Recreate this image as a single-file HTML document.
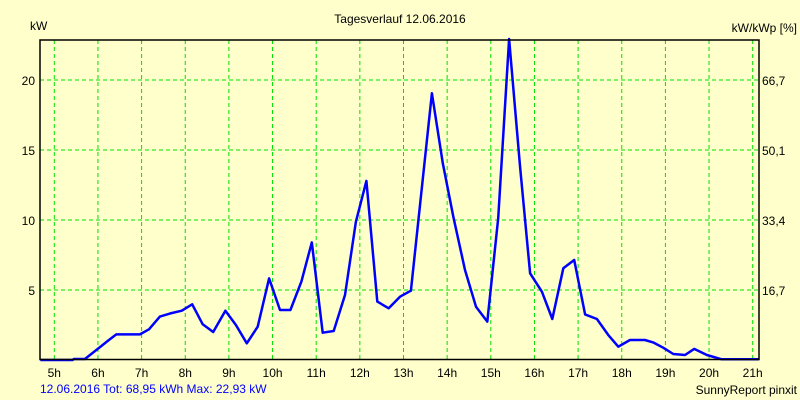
<!DOCTYPE html>
<html><head><meta charset="utf-8"><style>
html,body{margin:0;padding:0;background:#FFFFCC;}
svg{display:block;font-family:"Liberation Sans",Arial,sans-serif;font-size:12px;}
</style></head><body>
<svg id="chart" width="800" height="400" viewBox="0 0 800 400" xmlns="http://www.w3.org/2000/svg">
<rect x="0" y="0" width="800" height="400" fill="#FFFFCC"/>
<text x="400" y="23" text-anchor="middle" fill="#000">Tagesverlauf 12.06.2016</text>
<text x="30" y="30" fill="#000">kW</text>
<text x="797" y="32" text-anchor="end" fill="#000">kW/kWp [%]</text>
<g id="grid"></g>
<g id="series"></g>
<rect x="40" y="40" width="719" height="319.5" fill="none" stroke="#000" stroke-width="1.5"/>
<g id="labels"></g>
<text x="40" y="393" fill="#0000FF">12.06.2016 Tot: 68,95 kWh Max: 22,93 kW</text>
<text x="797" y="394" text-anchor="end" fill="#000">SunnyReport pinxit</text>
</svg>
<script>
const hourTicks=[5,6,7,8,9,10,11,12,13,14,15,16,17,18,19,20,21];
const leftTicks=[5,10,15,20];
const rightTickLabels=["16,7","33,4","50,1","66,7"];
const times=[4.68,5.42,5.45,5.70,6.01,6.25,6.42,6.96,7.17,7.42,7.66,7.92,8.16,8.40,8.64,8.92,9.16,9.41,9.66,9.92,10.17,10.41,10.66,10.90,11.15,11.40,11.66,11.91,12.15,12.40,12.66,12.92,13.17,13.65,13.90,14.14,14.41,14.66,14.92,15.17,15.42,15.67,15.90,16.17,16.41,16.66,16.91,17.16,17.43,17.69,17.92,18.19,18.53,18.73,18.95,19.18,19.45,19.66,19.95,20.29,21.14];
const values=[0,0,0.07,0.07,0.83,1.43,1.83,1.83,2.19,3.10,3.33,3.52,3.98,2.55,2.00,3.52,2.50,1.19,2.38,5.83,3.57,3.57,5.60,8.40,1.95,2.07,4.64,9.88,12.79,4.17,3.69,4.52,4.95,19.05,14.05,10.24,6.43,3.81,2.74,10.12,22.93,13.86,6.19,4.88,2.93,6.55,7.14,3.26,2.93,1.79,0.95,1.43,1.43,1.24,0.88,0.43,0.36,0.79,0.36,0.05,0.05];
const NS="http://www.w3.org/2000/svg";
function xs(h){return 54.3+(h-5)*43.65;}
function ys(v){return 360-v*14;}
const grid=document.getElementById('grid'),labels=document.getElementById('labels'),series=document.getElementById('series');
hourTicks.forEach(h=>{
  const l=document.createElementNS(NS,'line');
  l.setAttribute('x1',xs(h));l.setAttribute('x2',xs(h));l.setAttribute('y1',40);l.setAttribute('y2',359);
  l.setAttribute('stroke','#00E000');l.setAttribute('stroke-dasharray','4,3');
  
  
  grid.appendChild(l);
  const t=document.createElementNS(NS,'text');
  t.setAttribute('x',xs(h));t.setAttribute('y',377);t.setAttribute('text-anchor','middle');
  t.textContent=h+'h';
  
  
  labels.appendChild(t);
});
leftTicks.forEach((v,i)=>{
  const l=document.createElementNS(NS,'line');
  l.setAttribute('x1',40);l.setAttribute('x2',759);l.setAttribute('y1',ys(v));l.setAttribute('y2',ys(v));
  l.setAttribute('stroke','#00E000');l.setAttribute('stroke-dasharray','4,3');
  
  
  grid.appendChild(l);
  const t=document.createElementNS(NS,'text');
  t.setAttribute('x',35);t.setAttribute('y',ys(v)+5);t.setAttribute('text-anchor','end');
  t.textContent=v;
  
  
  labels.appendChild(t);
  const r=document.createElementNS(NS,'text');
  r.setAttribute('x',762);r.setAttribute('y',ys(v)+5);
  r.textContent=rightTickLabels[i];
  
  
  labels.appendChild(r);
});
const p=document.createElementNS(NS,'polyline');
p.setAttribute('points',times.map((h,i)=>xs(h).toFixed(1)+','+ys(values[i]).toFixed(1)).join(' '));
p.setAttribute('fill','none');p.setAttribute('stroke','#0000FF');p.setAttribute('stroke-width','2.5');p.setAttribute('stroke-linejoin','round');


series.appendChild(p);
</script>
</body></html>
